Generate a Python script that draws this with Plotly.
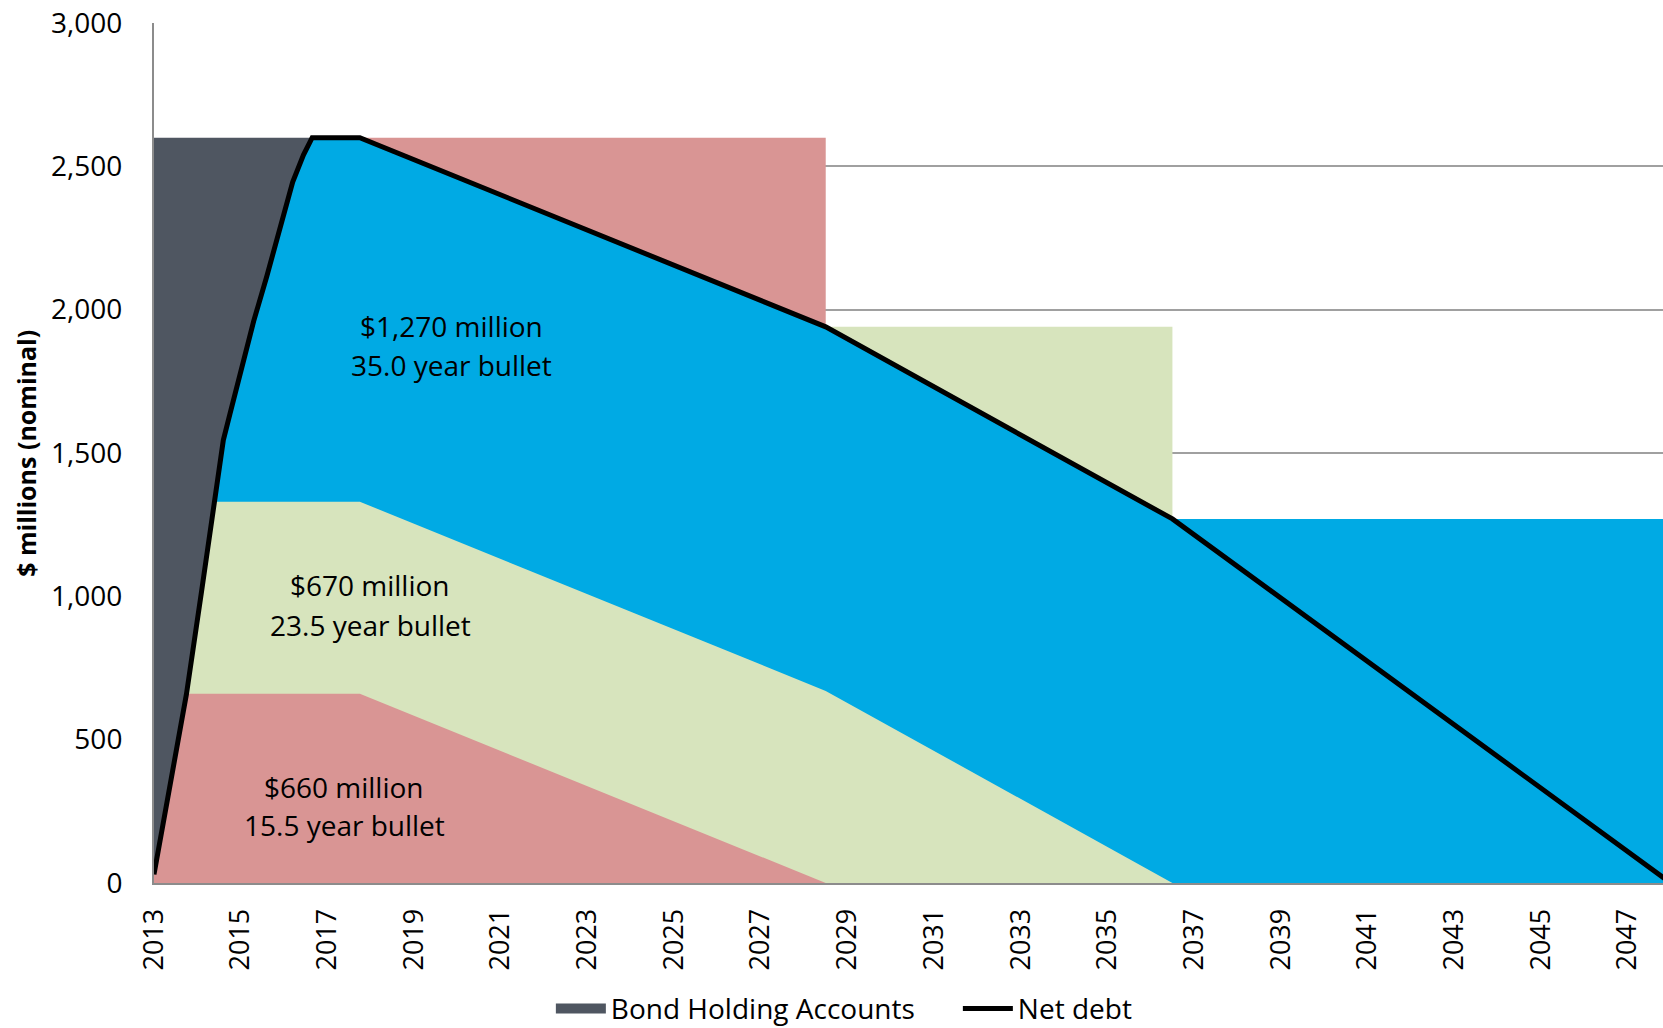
import plotly.graph_objects as go

# ---------------- data ($ millions, nominal) ----------------
# Net debt profile
nd_years = [2013.0, 2013.4, 2013.75, 2014.1, 2014.4, 2014.5, 2014.6, 2014.75, 2015.0, 2015.3,
            2015.6, 2015.9, 2016.2, 2016.45, 2016.65, 2017.75, 2028.5, 2036.5, 2048.0]
net_debt = [30, 355, 660, 1020, 1330, 1450, 1545, 1635, 1780, 1960,
            2115, 2285, 2445, 2540, 2600, 2600, 1940, 1270, 0]

# Bonds (bullet maturities)
bond_amounts = [660, 670, 1270]
bond_labels = ["$660 million", "$670 million", "$1,270 million"]
bond_terms = ["15.5 year bullet", "23.5 year bullet", "35.0 year bullet"]
maturity_years = [2028.5, 2036.5, 2048.0]
gross_debt = [2600, 1940, 1270]          # gross debt before each maturity

# Cumulative net (of bond holding accounts) outstanding for each tranche
tranche_years = [2017.75, 2028.5, 2036.5]
red_cum = [660, 0, 0]
green_cum = [1330, 670, 0]

# Bond holding accounts during construction
bha_years = [2013.0, 2016.65]
bha_level = [2600, 2600]

# Axis ticks
x_ticks = list(range(2013, 2048, 2))
y_ticks = [0, 500, 1000, 1500, 2000, 2500, 3000]

# ---------------- colours ----------------
C_GREY = "#4F5661"
C_RED = "#D99594"
C_GREEN = "#D7E4BD"
C_BLUE = "#00AAE4"
FONT = "Open Sans"

fig = go.Figure()


def area(x, y, color, name=None, legend=False):
    fig.add_trace(go.Scatter(x=x, y=y, mode="none", fill="tozeroy", fillcolor=color,
                             name=name, showlegend=legend, hoverinfo="skip"))


# Bond holding accounts during construction (grey)
area(bha_years, bha_level, C_GREY)
# Legend entry for the bond holding accounts (box-like swatch)
fig.add_trace(go.Scatter(x=[None], y=[None], mode="lines", name="Bond Holding Accounts",
                         line=dict(color=C_GREY, width=18), hoverinfo="skip"))

# Upper (bond holding account) regions for each bond
area([bha_years[-1], maturity_years[0]], [gross_debt[0], gross_debt[0]], C_RED)
area([maturity_years[0], maturity_years[1]], [gross_debt[1], gross_debt[1]], C_GREEN)

# Blue: under net debt to 2036.5, then flat 1,270 to 2048
bx = [x for x in nd_years if x <= maturity_years[1]] + [maturity_years[2]]
by = net_debt[:len(bx) - 1] + [gross_debt[2]]
area(bx, by, C_BLUE)

# Green lower
gsel = [(x, v) for x, v in zip(nd_years, net_debt) if v <= green_cum[0] and x < tranche_years[0]]
area([p[0] for p in gsel] + tranche_years, [p[1] for p in gsel] + green_cum, C_GREEN)

# Red lower
rsel = [(x, v) for x, v in zip(nd_years, net_debt) if v <= red_cum[0] and x < tranche_years[0]]
area([p[0] for p in rsel] + tranche_years[:2], [p[1] for p in rsel] + red_cum[:2], C_RED)

# Net debt line
fig.add_trace(go.Scatter(x=nd_years, y=net_debt, mode="lines", name="Net debt",
                         line=dict(color="black", width=5), hoverinfo="skip"))

# Labels
label_pos = [(2017.39, 335, 202), (2017.99, 1039, 900), (2019.86, 1943, 1807)]
for (lx, y1, y2), l1, l2 in zip(label_pos, bond_labels, bond_terms):
    fig.add_annotation(x=lx, y=y1, text=l1, showarrow=False,
                       font=dict(family=FONT, size=28, color="black"))
    fig.add_annotation(x=lx, y=y2, text=l2, showarrow=False,
                       font=dict(family=FONT, size=28, color="black"))

fig.add_annotation(x=-0.085, y=0.5, xref="paper", yref="paper", text="<b>$ millions (nominal)</b>",
                   textangle=-90, showarrow=False, xanchor="center", yanchor="middle",
                   font=dict(family=FONT, size=25, color="black"))

fig.update_layout(
    width=1663, height=1028,
    margin=dict(l=154, r=0, t=23, b=145, autoexpand=False),
    paper_bgcolor="white", plot_bgcolor="white",
    font=dict(family=FONT, color="black"),
    showlegend=True,
    legend=dict(orientation="h", x=0.263, xanchor="left", yref="container", y=0.043,
                yanchor="top", font=dict(family=FONT, size=28), itemwidth=50,
                entrywidth=342, bgcolor="rgba(0,0,0,0)"),
    xaxis=dict(range=[2013, 2047.82], tickvals=x_ticks, ticktext=[str(t) for t in x_ticks],
               tickangle=-90, tickfont=dict(family=FONT, size=27), showgrid=False,
               showline=True, linecolor="#8C8C8C", linewidth=2, ticks="", zeroline=False,
               layer="above traces", fixedrange=True, automargin=False, ticklabelstandoff=13),
    yaxis=dict(range=[0, 3000], tickvals=y_ticks, tickformat=",d",
               tickfont=dict(family=FONT, size=28), showgrid=True, gridcolor="#A0A0A0",
               gridwidth=2, showline=True, linecolor="#8C8C8C", linewidth=2, ticks="",
               zeroline=False, layer="above traces", fixedrange=True, automargin=False,
               ticklabelstandoff=24),
)

fig.write_html("out.html")
